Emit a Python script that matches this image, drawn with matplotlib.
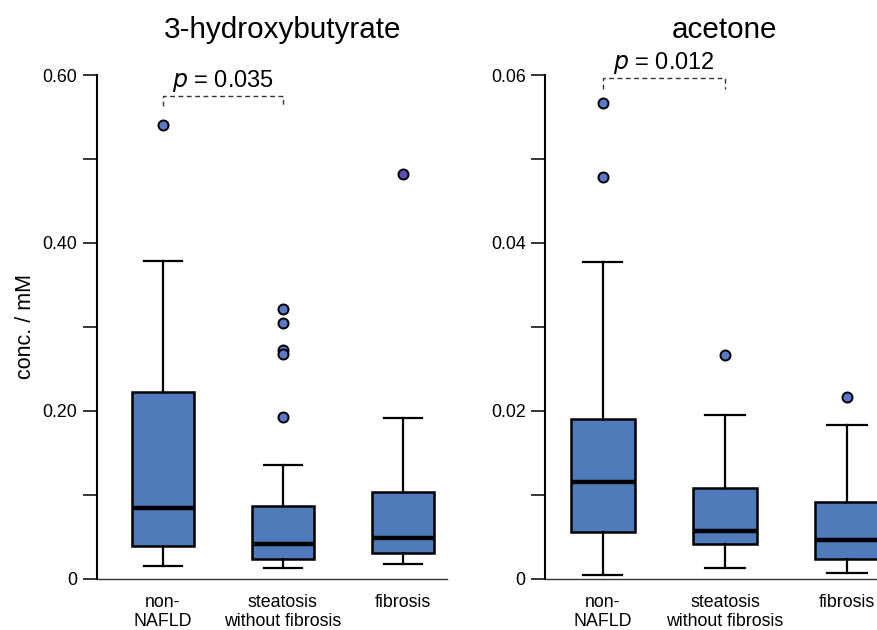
import matplotlib
matplotlib.use("Agg")
import matplotlib.pyplot as plt
import matplotlib.transforms as mtransforms

plt.rcParams['font.family'] = ['Liberation Sans', 'DejaVu Sans']

categories = ["non-\nNAFLD", "steatosis\nwithout fibrosis", "fibrosis"]

# 3-hydroxybutyrate box statistics (mM)
hb_whislo = [0.015, 0.013, 0.018]
hb_q1 = [0.039, 0.024, 0.031]
hb_med = [0.084, 0.041, 0.049]
hb_q3 = [0.222, 0.087, 0.103]
hb_whishi = [0.378, 0.136, 0.191]
hb_fliers = [[0.541], [0.321, 0.305, 0.272, 0.268, 0.193], [0.482]]

# acetone box statistics (mM)
ac_whislo = [0.0004, 0.0013, 0.0007]
ac_q1 = [0.0056, 0.0041, 0.0024]
ac_med = [0.0115, 0.0057, 0.0046]
ac_q3 = [0.0190, 0.0108, 0.0091]
ac_whishi = [0.0377, 0.0195, 0.0183]
ac_fliers = [[0.0567, 0.0478], [0.0266], [0.0217]]

titles = ["3-hydroxybutyrate", "acetone"]
p_labels = ["0.035", "0.012"]

hb_ticks = [0, 0.20, 0.40, 0.60]
hb_ticklabels = ["0", "0.20", "0.40", "0.60"]
hb_minor = [0.10, 0.30, 0.50]
ac_ticks = [0, 0.02, 0.04, 0.06]
ac_ticklabels = ["0", "0.02", "0.04", "0.06"]
ac_minor = [0.01, 0.03, 0.05]

BOX_COLOR = "#4f7bba"
FLIER_COLORS = ["#5b78c8", "#5b78c8", "#5a50b8"]

W, H = 878, 630
fig = plt.figure(figsize=(W / 100, H / 100), dpi=100)


def make_stats(wl, q1, med, q3, wh, fl):
    return [dict(whislo=wl[i], q1=q1[i], med=med[i], q3=q3[i], whishi=wh[i],
                 fliers=fl[i]) for i in range(len(wl))]


def draw_panel(rect, stats, xlim, ylim, ticks, ticklabels, minor, title, pval,
               br_y, br_tick, p_y, flier_colors):
    ax = fig.add_axes(rect)
    pos = [1, 2, 3]
    ax.bxp(stats, positions=pos, widths=0.52, capwidths=0.32,
           patch_artist=True, showfliers=False,
           boxprops=dict(facecolor=BOX_COLOR, edgecolor="black", linewidth=1.8),
           medianprops=dict(color="black", linewidth=3.2, solid_capstyle="butt"),
           whiskerprops=dict(color="black", linewidth=1.6),
           capprops=dict(color="black", linewidth=1.6))
    for i, s in enumerate(stats):
        ax.plot([pos[i]] * len(s["fliers"]), s["fliers"], "o", ms=7.2,
                mfc=flier_colors[i], mec="black", mew=1.4, zorder=5, clip_on=False)
    ax.set_xlim(*xlim)
    ax.set_ylim(*ylim)
    ax.set_yticks(ticks)
    ax.set_yticklabels(ticklabels)
    ax.set_yticks(minor, minor=True)
    ax.tick_params(axis="y", which="both", length=10, width=1.1, labelsize=12.8,
                   pad=4, colors="black")
    ax.set_xticks(pos)
    ax.set_xticklabels(categories, fontsize=12.8, linespacing=1.12)
    ax.tick_params(axis="x", length=0, pad=11)
    for sp in ["top", "right"]:
        ax.spines[sp].set_visible(False)
    ax.spines["left"].set_linewidth(1.5)
    ax.spines["bottom"].set_linewidth(1.0)
    ax.spines["bottom"].set_color("#333333")
    trans = mtransforms.blended_transform_factory(ax.transData, ax.transAxes)
    ax.text(2, 1.0735, title, transform=trans, ha="center", va="baseline",
            fontsize=21.3)
    # significance bracket
    ax.plot([1, 1, 2, 2], [br_tick, br_y, br_y, br_tick], color="#333333",
            lw=1.0, ls=(0, (3.5, 2.5)), clip_on=False)
    ax.text(1.5, p_y, r"$\it{p}$ = " + pval, ha="center", va="center",
            fontsize=17, clip_on=False)
    return ax


ax1 = draw_panel([96.7 / W, 51.3 / H, 350 / W, 503.7 / H],
                 make_stats(hb_whislo, hb_q1, hb_med, hb_q3, hb_whishi, hb_fliers),
                 (0.447, 3.367), (0, 0.60), hb_ticks, hb_ticklabels, hb_minor,
                 titles[0], p_labels[0], 0.575, 0.563, 0.593, FLIER_COLORS)
ax1.set_ylabel("conc. / mM", fontsize=15.5, labelpad=5)

ax2 = draw_panel([545 / W, 51.3 / H, 333 / W, 503.7 / H],
                 make_stats(ac_whislo, ac_q1, ac_med, ac_q3, ac_whishi, ac_fliers),
                 (0.525, 3.254), (0, 0.060), ac_ticks, ac_ticklabels, ac_minor,
                 titles[1], p_labels[1], 0.0597, 0.0583, 0.0614, ["#5b78c8"] * 3)

fig.savefig("out.png", dpi=100)
